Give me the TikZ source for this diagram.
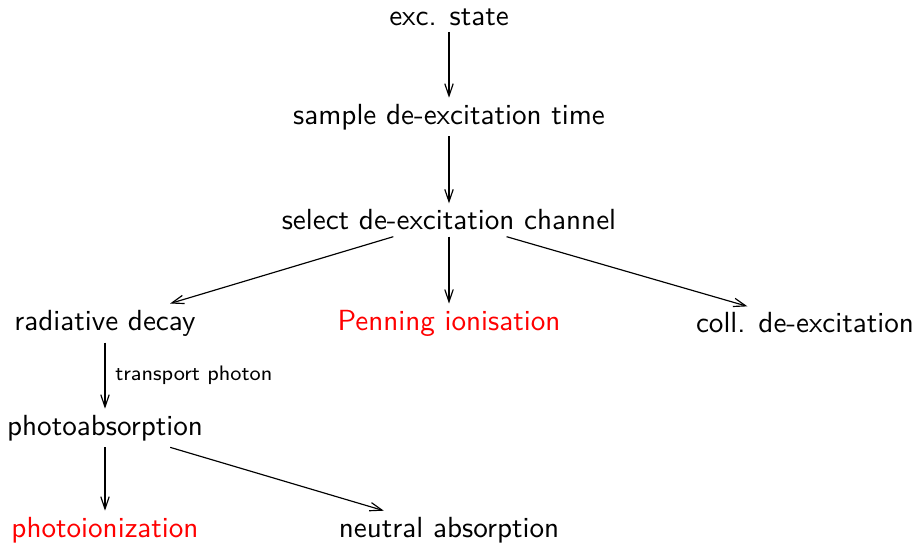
\documentclass[tikz,border=0pt]{standalone}
\usepackage{tikz}
\usetikzlibrary{arrows.meta}
\begin{document}
\begin{tikzpicture}[x=0.3434pt,y=-0.3434pt,
  every node/.style={font=\sffamily},
  state/.style={inner sep=2pt},
  hot/.style={state,text=red},
  flow/.style={-{Straight Barb[length=4.2pt,width=2.9pt]},thin},
  note/.style={font=\sffamily\fontsize{7.2}{9}\selectfont}]
\useasboundingbox (0,0) rectangle (917,546);
\node[state] (exc)  at (449,17)  {exc. state};
\node[state] (samp) at (449,117) {sample de-excitation time};
\node[state] (sel)  at (449,220) {select de-excitation channel};
\node[state] (rad)  at (105,323) {radiative decay};
\node[hot]   (pen)  at (449,323) {Penning ionisation};
\node[state] (coll) at (805,323) {coll. de-excitation};
\node[state] (pabs) at (105,428) {photoabsorption};
\node[hot]   (pion) at (105,530) {photoionization};
\node[state] (neut) at (449,530) {neutral absorption};

\draw[flow] (exc) -- (samp);
\draw[flow] (samp) -- (sel);
\draw[flow] (sel) -- (rad);
\draw[flow] (sel) -- (pen);
\draw[flow] (sel) -- (coll);
\draw[flow] (rad) -- node[right,note] (tp) {transport photon} (pabs);
\draw[flow] (pabs) -- (pion);
\draw[flow] (pabs) -- (neut);
\end{tikzpicture}
\end{document}
